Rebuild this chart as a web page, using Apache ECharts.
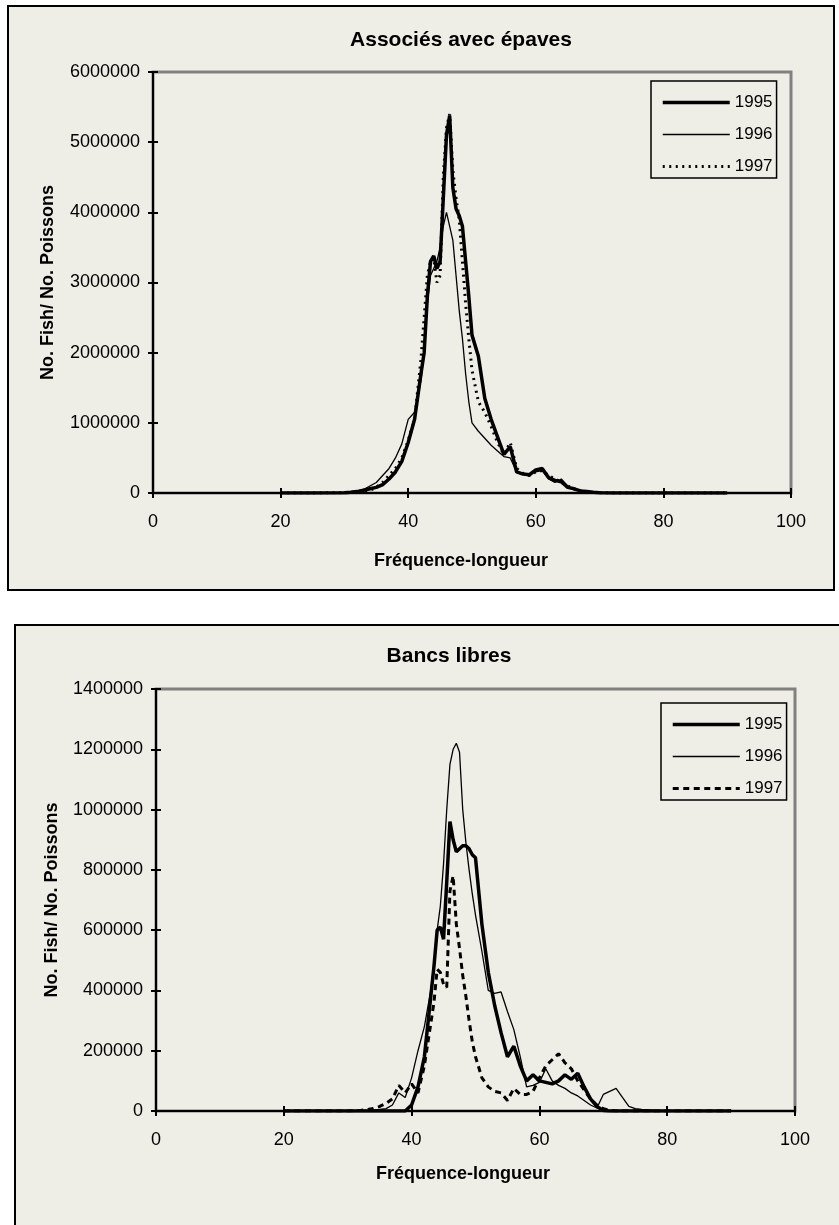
<!DOCTYPE html>
<html>
<head>
<meta charset="utf-8">
<script src="https://cdn.jsdelivr.net/npm/echarts@6/dist/echarts.min.js"></script>
<style>
  html, body { margin: 0; padding: 0; background: #fff; overflow: hidden; }
  #main { width: 839px; height: 1225px; }
</style>
</head>
<body>
<div id="main"></div>
<script>
// lengths (cm) and fish counts
var years = ['1995', '1996', '1997'];
var xTicks = [0, 20, 40, 60, 80, 100];

// top panel: Associés avec épaves
var lengths1 = [20, 25, 30, 31, 32, 33, 34, 35, 36, 37, 38, 39, 40, 41, 42, 42.5, 43, 43.5, 44, 44.5, 45, 45.5, 46, 46.5, 47, 47.5, 48, 48.5, 49, 49.5, 50,
  51, 52, 53, 54, 55, 56, 57, 58, 59, 60, 61, 62, 63, 64, 65, 66, 67, 68, 69, 70, 72, 75, 80, 85, 90];
var epaves1995 = [0, 0, 5000, 10000, 20000, 40000, 60000, 80000, 120000, 200000, 300000, 450000, 720000, 1050000, 1700000, 2000000,
  2800000, 3300000, 3380000, 3200000, 3300000, 4200000, 5100000, 5380000, 4350000, 4050000, 3950000, 3800000, 3300000, 2800000, 2250000,
  1950000, 1350000, 1050000, 800000, 550000, 660000, 300000, 270000, 260000, 330000, 350000, 220000, 180000, 160000, 80000, 60000,
  30000, 20000, 10000, 5000, 0, 0, 0, 0, 0];
var epaves1996 = [0, 0, 10000, 20000, 30000, 50000, 100000, 150000, 250000, 350000, 500000, 700000, 1050000, 1150000, 1600000, 2000000,
  2700000, 3100000, 3200000, 3300000, 3500000, 3800000, 4000000, 3800000, 3600000, 3100000, 2600000, 2200000, 1700000, 1300000, 1000000,
  880000, 780000, 680000, 600000, 520000, 500000, 300000, 280000, 270000, 300000, 320000, 200000, 150000, 200000, 100000, 50000,
  30000, 20000, 10000, 10000, 5000, 3000, 2000, 1000, 0];
var epaves1997 = [0, 0, 5000, 5000, 10000, 20000, 40000, 80000, 150000, 250000, 350000, 500000, 750000, 1050000, 1900000, 2500000,
  3100000, 3300000, 3350000, 3000000, 3100000, 4500000, 5200000, 5400000, 4600000, 4200000, 3900000, 3300000, 2700000, 2200000, 1750000,
  1300000, 1150000, 950000, 720000, 550000, 720000, 350000, 280000, 250000, 300000, 320000, 250000, 200000, 150000, 100000, 60000,
  30000, 20000, 10000, 5000, 0, 0, 0, 0, 0];

// bottom panel: Bancs libres
var lengths2 = [20, 25, 30, 32, 34, 35, 36, 37, 38, 39, 40, 41, 42, 43, 43.5, 44, 44.5, 45, 45.5, 46, 46.5, 47, 47.5, 48, 48.5, 49, 49.5, 50,
  51, 52, 53, 54, 55, 56, 57, 58, 59, 60, 61, 62, 63, 64, 65, 66, 67, 68, 69, 70, 71, 72, 73, 74, 75, 76, 78, 80, 85, 90];
var libres1995 = [0, 0, 0, 0, 0, 0, 0, 0, 0, 0, 20000, 80000, 180000, 380000,
  480000, 600000, 610000, 570000, 760000, 960000, 900000, 860000, 870000, 880000, 880000, 870000, 850000, 840000,
  620000, 460000, 350000, 260000, 180000, 215000, 150000, 100000, 120000, 100000, 95000, 90000, 100000, 120000, 105000, 125000,
  80000, 40000, 15000, 2000, 0, 0, 0, 0, 0, 0, 0, 0, 0, 0];
var libres1996 = [0, 0, 0, 2000, 3000, 5000, 8000, 20000, 60000, 45000, 110000, 200000, 280000, 400000,
  490000, 600000, 680000, 820000, 1000000, 1150000, 1200000, 1220000, 1190000, 1000000, 890000, 800000, 720000, 650000,
  530000, 400000, 390000, 395000, 330000, 270000, 180000, 80000, 85000, 95000, 140000, 100000, 85000, 75000, 60000, 50000,
  35000, 20000, 10000, 55000, 65000, 75000, 45000, 15000, 8000, 5000, 2000, 1000, 0, 0];
var libres1997 = [0, 0, 0, 2000, 8000, 15000, 25000, 40000, 85000, 60000, 90000, 60000, 150000, 290000,
  360000, 470000, 460000, 420000, 410000, 730000, 780000, 620000, 540000, 450000, 380000, 300000, 230000, 180000,
  110000, 80000, 65000, 60000, 35000, 75000, 55000, 55000, 65000, 110000, 150000, 170000, 190000, 160000, 140000, 100000,
  70000, 40000, 20000, 8000, 2000, 0, 0, 0, 0, 0, 0, 0, 0, 0];

var font = 'Liberation Sans, Arial, sans-serif';
var bg = '#eeede6';

function pairs(xs, ys) {
  return xs.map(function (x, i) { return [x, ys[i]]; });
}

// main axis (labels, outside ticks) + twin axis (inside ticks) => crossing tick marks
function xAxes(grid) {
  var base = { type: 'value', gridIndex: grid, position: 'bottom', min: 0, max: 100, interval: 20, splitLine: { show: false } };
  return [
    Object.assign({}, base, {
      axisLine: { lineStyle: { color: '#000', width: 2 } },
      axisTick: { length: 5, lineStyle: { color: '#000', width: 2 } },
      axisLabel: { color: '#000', fontSize: 18, fontFamily: font, margin: 20 }
    }),
    Object.assign({}, base, {
      axisLine: { show: false },
      axisTick: { inside: true, length: 5, lineStyle: { color: '#000', width: 2 } },
      axisLabel: { show: false }
    })
  ];
}

function yAxes(grid, max, step, gap) {
  var base = { type: 'value', gridIndex: grid, position: 'left', min: 0, max: max, interval: step, splitLine: { show: false } };
  return [
    Object.assign({}, base, {
      name: 'No. Fish/ No. Poissons',
      nameLocation: 'middle',
      nameGap: gap,
      nameRotate: 90,
      nameTextStyle: { color: '#000', fontSize: 18, fontWeight: 'bold', fontFamily: font },
      axisLine: { lineStyle: { color: '#000', width: 2 } },
      axisTick: { length: 5, lineStyle: { color: '#000', width: 2 } },
      axisLabel: { color: '#000', fontSize: 18, fontFamily: font, margin: 13, formatter: function (v) { return String(v); } }
    }),
    Object.assign({}, base, {
      axisLine: { show: false },
      axisTick: { inside: true, length: 5, lineStyle: { color: '#000', width: 2 } },
      axisLabel: { show: false }
    })
  ];
}

var styles = {
  '1995': { color: '#000', width: 3.5, type: 'solid' },
  '1996': { color: '#000', width: 1.3, type: 'solid' }
};

function lines(xi, yi, xs, sets, dash) {
  return sets.map(function (ys, k) {
    var ls = styles[years[k]] || { color: '#000', width: 3, type: dash };
    return {
      name: years[k], type: 'line', xAxisIndex: xi, yAxisIndex: yi,
      showSymbol: false, symbol: 'none', smooth: false,
      lineStyle: ls, itemStyle: { color: '#000' },
      data: pairs(xs, ys), z: 3 - k
    };
  });
}

function legend(left, top, dash) {
  return {
    orient: 'vertical', left: left, top: top,
    itemWidth: 67, itemHeight: 14, itemGap: 15,
    padding: [13, 4, 3, 10],
    borderColor: '#000', borderWidth: 1.5, borderRadius: 0,
    backgroundColor: bg,
    selectedMode: false,
    itemStyle: { opacity: 0 },
    textStyle: { color: '#000', fontSize: 17, fontFamily: font },
    data: [
      { name: '1995', lineStyle: { type: 'solid', width: 3.5, color: '#000' } },
      { name: '1996', lineStyle: { type: 'solid', width: 1.3, color: '#000' } },
      { name: '1997', lineStyle: { type: dash, width: 3, color: '#000' } }
    ]
  };
}

var chart = echarts.init(document.getElementById('main'));
var option = {
  backgroundColor: '#fff',
  animation: false,
  graphic: [
    { type: 'rect', z: -10, shape: { x: 8, y: 6, width: 826, height: 584 }, style: { fill: bg, stroke: '#000', lineWidth: 2 } },
    { type: 'rect', z: -10, shape: { x: 15, y: 625, width: 840, height: 620 }, style: { fill: bg, stroke: '#000', lineWidth: 2 } }
  ],
  title: [
    { text: 'Associés avec épaves', left: 461, top: 30, textAlign: 'center', padding: 0,
      textStyle: { fontSize: 21, fontWeight: 'bold', color: '#000', fontFamily: font } },
    { text: 'Fréquence-longueur', left: 461, top: 552, textAlign: 'center', padding: 0,
      textStyle: { fontSize: 18, fontWeight: 'bold', color: '#000', fontFamily: font } },
    { text: 'Bancs libres', left: 449, top: 646, textAlign: 'center', padding: 0,
      textStyle: { fontSize: 21, fontWeight: 'bold', color: '#000', fontFamily: font } },
    { text: 'Fréquence-longueur', left: 463, top: 1165, textAlign: 'center', padding: 0,
      textStyle: { fontSize: 18, fontWeight: 'bold', color: '#000', fontFamily: font } }
  ],
  legend: [legend(651, 81, [2, 4.5]), legend(661, 703, [6, 4.5])],
  grid: [
    { left: 153, top: 72, width: 638, height: 421, show: true, borderColor: '#808080', borderWidth: 3, backgroundColor: 'transparent' },
    { left: 156, top: 689, width: 639, height: 422, show: true, borderColor: '#808080', borderWidth: 3, backgroundColor: 'transparent' }
  ],
  xAxis: xAxes(0).concat(xAxes(1)),
  yAxis: yAxes(0, 6000000, 1000000, 96).concat(yAxes(1, 1400000, 200000, 95)),
  series: lines(0, 0, lengths1, [epaves1995, epaves1996, epaves1997], [2, 4.5])
    .concat(lines(2, 2, lengths2, [libres1995, libres1996, libres1997], [6, 4.5]))
};
chart.setOption(option);
</script>
</body>
</html>
